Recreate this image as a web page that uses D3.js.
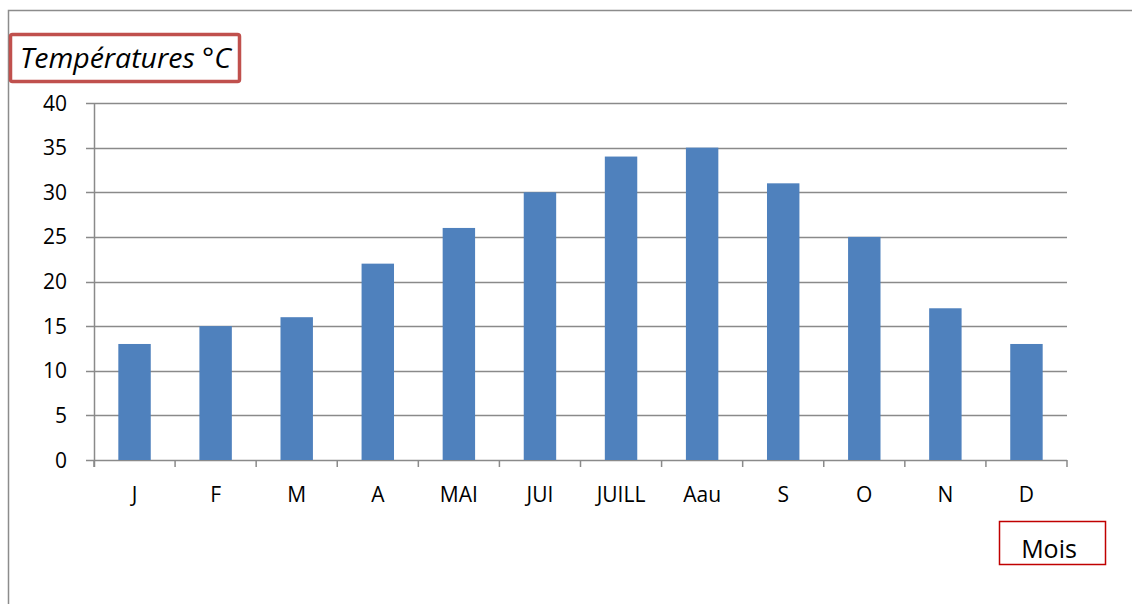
<!DOCTYPE html>
<html>
<head>
<meta charset="utf-8">
<script src="https://cdn.jsdelivr.net/npm/d3@7"></script>
<style>
  body { margin: 0; background: #fff; }
  text { font-family: "Open Sans", sans-serif; fill: #000; }
</style>
</head>
<body>
<div id="chart"></div>
<script>
// data
var months = ["J", "F", "M", "A", "MAI", "JUI", "JUILL", "Aau", "S", "O", "N", "D"];
var temperatures = [13, 15, 16, 22, 26, 30, 34, 35, 31, 25, 17, 13];
var yTicks = [0, 5, 10, 15, 20, 25, 30, 35, 40];

var w = 1132, h = 604;
var margin = {top: 103, right: 65, bottom: 144, left: 94};

var svg = d3.select("#chart").append("svg")
    .attr("width", w)
    .attr("height", h);

// outer frame (only top and left visible)
svg.append("path")
    .attr("d", "M8.5," + h + "V10.5H" + w)
    .attr("fill", "none")
    .attr("stroke", "#8c8c8c")
    .attr("stroke-width", 1.5);

var x = d3.scaleBand()
    .domain(months)
    .range([margin.left, w - margin.right])
    .paddingInner(0.6)
    .paddingOuter(0.3);

var y = d3.scaleLinear()
    .domain([0, 40])
    .range([h - margin.bottom, margin.top]);

// gridlines
svg.append("g")
    .selectAll("line")
    .data(yTicks)
    .enter()
    .append("line")
    .attr("x1", margin.left - 8)
    .attr("x2", w - margin.right)
    .attr("y1", function (d) { return Math.round(y(d)) + 0.5; })
    .attr("y2", function (d) { return Math.round(y(d)) + 0.5; })
    .attr("stroke", "#8a8a8a")
    .attr("stroke-width", 1.5);

// y labels
svg.append("g")
    .selectAll("text")
    .data(yTicks)
    .enter()
    .append("text")
    .attr("x", 67)
    .attr("y", function (d) { return y(d); })
    .attr("dy", "0.36em")
    .attr("text-anchor", "end")
    .style("font-size", "21px")
    .text(function (d) { return d; });

// bars
svg.append("g")
    .selectAll("rect")
    .data(temperatures)
    .enter()
    .append("rect")
    .attr("x", function (d, i) { return x(months[i]); })
    .attr("width", x.bandwidth())
    .attr("y", function (d) { return y(d); })
    .attr("height", function (d) { return y(0) - y(d); })
    .attr("fill", "#4f81bd");

// y axis line
svg.append("line")
    .attr("x1", margin.left + 0.5)
    .attr("x2", margin.left + 0.5)
    .attr("y1", y(40))
    .attr("y2", y(0) + 7)
    .attr("stroke", "#8a8a8a")
    .attr("stroke-width", 1.5);

// x ticks at category boundaries
var bounds = d3.range(months.length + 1).map(function (i) {
    return margin.left + i * (w - margin.right - margin.left) / months.length;
});
svg.append("g")
    .selectAll("line")
    .data(bounds)
    .enter()
    .append("line")
    .attr("x1", function (d) { return d; })
    .attr("x2", function (d) { return d; })
    .attr("y1", y(0))
    .attr("y2", y(0) + 7)
    .attr("stroke", "#8a8a8a")
    .attr("stroke-width", 1.5);

// x labels
svg.append("g")
    .selectAll("text")
    .data(months)
    .enter()
    .append("text")
    .attr("x", function (d) { return x(d) + x.bandwidth() / 2; })
    .attr("y", 502)
    .attr("text-anchor", "middle")
    .style("font-size", "21px")
    .text(function (d) { return d; });

// title box
svg.append("rect")
    .attr("x", 10.5)
    .attr("y", 34.5)
    .attr("width", 229)
    .attr("height", 47)
    .attr("rx", 2)
    .attr("fill", "#fff")
    .attr("stroke", "#c0504d")
    .attr("stroke-width", 3.5);
svg.append("text")
    .attr("x", 20)
    .attr("y", 68)
    .attr("textLength", 211)
    .attr("lengthAdjust", "spacingAndGlyphs")
    .style("font-size", "28px")
    .style("font-style", "italic")
    .text("Températures °C");

// "Mois" box
svg.append("rect")
    .attr("x", 999.5)
    .attr("y", 521.5)
    .attr("width", 106)
    .attr("height", 43)
    .attr("fill", "#fff")
    .attr("stroke", "#c00000")
    .attr("stroke-width", 1.5);
svg.append("text")
    .attr("x", 1049)
    .attr("y", 558)
    .attr("text-anchor", "middle")
    .style("font-size", "25px")
    .text("Mois");
</script>
</body>
</html>
